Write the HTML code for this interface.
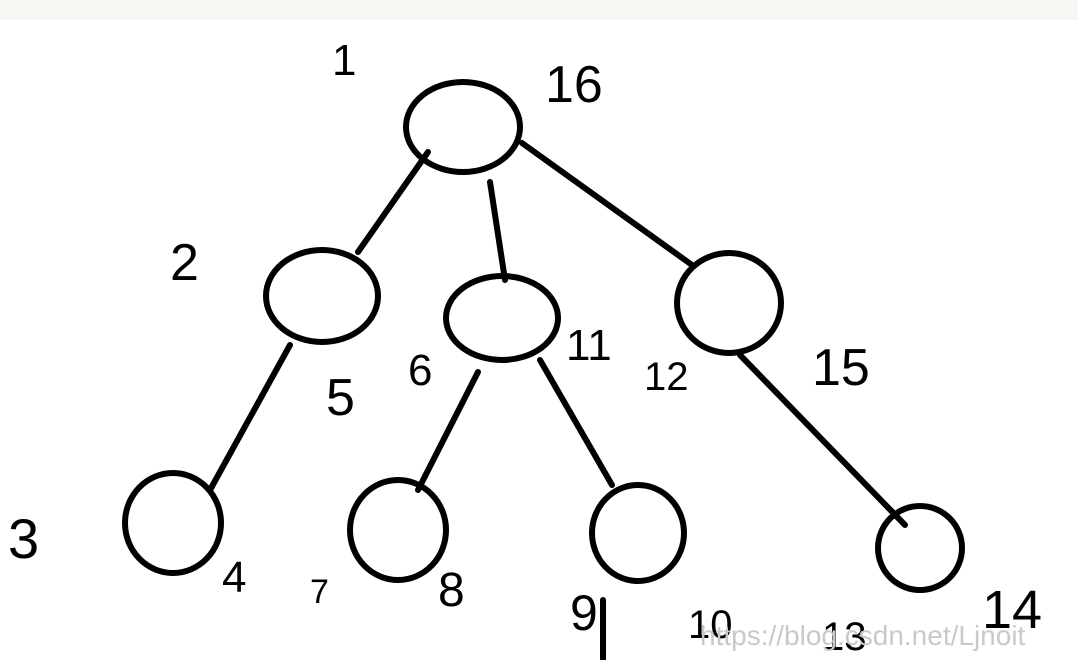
<!DOCTYPE html>
<html><head><meta charset="utf-8"><style>
html,body{margin:0;padding:0;background:#fff;}
svg{display:block}
text{font-family:"Liberation Sans",sans-serif;fill:#000}
</style></head><body>
<svg width="1078" height="660" viewBox="0 0 1078 660" xmlns="http://www.w3.org/2000/svg">
<rect x="0" y="0" width="1078" height="660" fill="#fff"/>
<rect x="0" y="0" width="1078" height="20" fill="#f7f6f2"/>
<g stroke="#000" stroke-width="6" fill="none" stroke-linecap="round">
<ellipse cx="463" cy="127" rx="57" ry="45"/>
<ellipse cx="322" cy="296" rx="56" ry="46"/>
<ellipse cx="502" cy="318" rx="56" ry="42"/>
<ellipse cx="729" cy="303" rx="52" ry="50"/>
<ellipse cx="173" cy="523" rx="48" ry="50"/>
<ellipse cx="398" cy="530" rx="48" ry="50"/>
<ellipse cx="638" cy="533" rx="46" ry="48"/>
<ellipse cx="920" cy="548" rx="42" ry="42"/>
<line x1="428" y1="152" x2="358" y2="252"/>
<line x1="490" y1="182" x2="505" y2="280"/>
<line x1="522" y1="143" x2="692" y2="265"/>
<line x1="290" y1="345" x2="210" y2="490"/>
<line x1="478" y1="372" x2="418" y2="490"/>
<line x1="540" y1="360" x2="612" y2="485"/>
<line x1="740" y1="355" x2="905" y2="525"/>
<line x1="603" y1="600" x2="603" y2="660"/>
</g>
<text x="332" y="75" font-size="44">1</text>
<text x="545" y="102" font-size="52">16</text>
<text x="170" y="280" font-size="52">2</text>
<text x="326" y="415" font-size="52">5</text>
<text x="408" y="385" font-size="44">6</text>
<text x="566" y="360" font-size="44">11</text>
<text x="644" y="390" font-size="40">12</text>
<text x="812" y="385" font-size="52">15</text>
<text x="8" y="558" font-size="56">3</text>
<text x="222" y="592" font-size="44">4</text>
<text x="310" y="603" font-size="34">7</text>
<text x="438" y="606" font-size="48">8</text>
<text x="570" y="630" font-size="50">9</text>
<text x="688" y="638" font-size="40">10</text>
<text x="822" y="650" font-size="40">13</text>
<text x="982" y="628" font-size="54">14</text>
<text x="700" y="645" font-size="28" style="fill:#c9c9c9">https://blog.csdn.net/Ljnoit</text>
</svg>
</body></html>
